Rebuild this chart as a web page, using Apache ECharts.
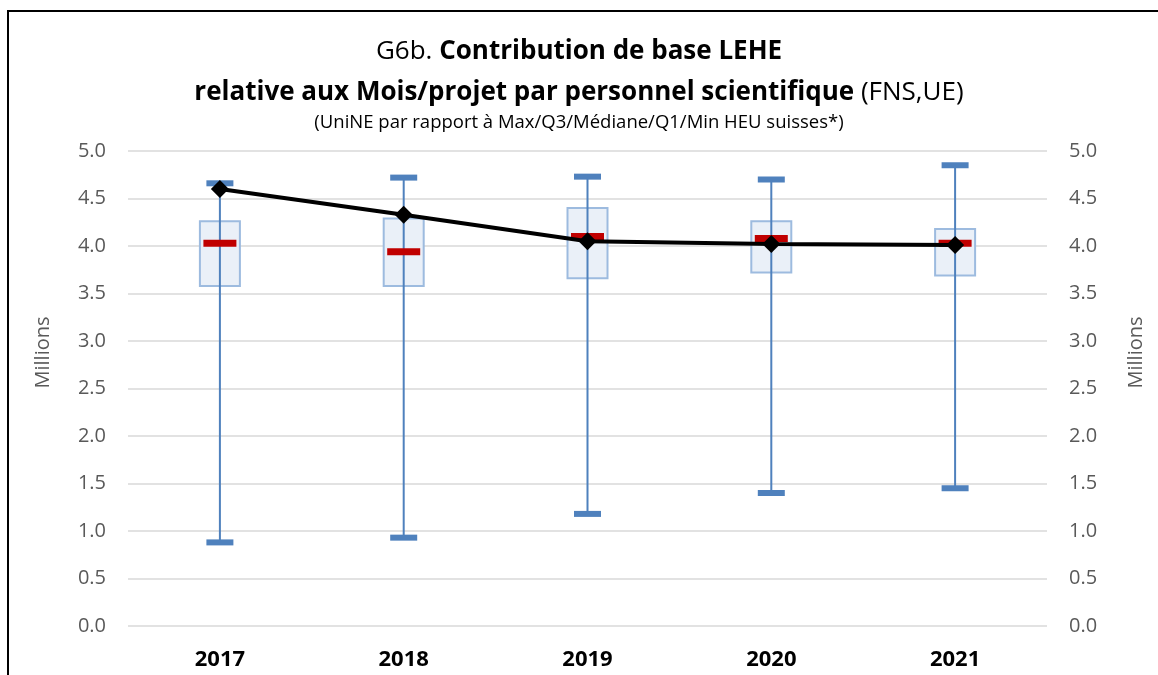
<!DOCTYPE html>
<html>
<head>
<meta charset="utf-8">
<script src="https://cdn.jsdelivr.net/npm/echarts@6/dist/echarts.min.js"></script>
<style>
    html, body { margin: 0; padding: 0; background: #fff; }
    #main { width: 1158px; height: 675px; }
</style>
</head>
<body>
<div id="main"></div>
<script>
// données (millions)
var years = ['2017', '2018', '2019', '2020', '2021'];
var minVals = [0.88, 0.93, 1.18, 1.40, 1.45];
var q1Vals = [3.58, 3.58, 3.66, 3.72, 3.69];
var medVals = [4.03, 3.94, 4.10, 4.08, 4.03];
var q3Vals = [4.26, 4.29, 4.40, 4.26, 4.18];
var maxVals = [4.66, 4.72, 4.73, 4.70, 4.85];
var unineVals = [4.60, 4.33, 4.05, 4.02, 4.01];
var yTicks = ['0.0', '0.5', '1.0', '1.5', '2.0', '2.5', '3.0', '3.5', '4.0', '4.5', '5.0'];

var font = 'Open Sans';

var boxData = years.map(function (y, i) {
    return [i, minVals[i], q1Vals[i], medVals[i], q3Vals[i], maxVals[i]];
});

// boîte + moustaches dessinées à la main (style Excel)
function renderBox(params, api) {
    var x = api.value(0);
    var pMin = api.coord([x, api.value(1)]);
    var pQ1 = api.coord([x, api.value(2)]);
    var pMed = api.coord([x, api.value(3)]);
    var pQ3 = api.coord([x, api.value(4)]);
    var pMax = api.coord([x, api.value(5)]);
    var cx = pMin[0];
    return {
        type: 'group',
        children: [{
            type: 'rect',
            shape: { x: cx - 20, y: pQ3[1], width: 40, height: pQ1[1] - pQ3[1] },
            style: { fill: '#eaf0f8', stroke: '#9dbbdf', lineWidth: 2 }
        }, {
            type: 'line',
            shape: { x1: cx, y1: pMax[1], x2: cx, y2: pMin[1] },
            style: { stroke: '#4f81bd', lineWidth: 2 }
        }, {
            type: 'rect',
            shape: { x: cx - 13.5, y: pMax[1] - 3, width: 27, height: 6 },
            style: { fill: '#4f81bd' }
        }, {
            type: 'rect',
            shape: { x: cx - 13.5, y: pMin[1] - 3, width: 27, height: 6 },
            style: { fill: '#4f81bd' }
        }, {
            type: 'rect',
            shape: { x: cx - 16.5, y: pMed[1] - 3.5, width: 33, height: 7 },
            style: { fill: '#c00000' }
        }]
    };
}

function yAxisCfg(pos) {
    return {
        type: 'value',
        position: pos,
        min: 0,
        max: 5,
        interval: 0.5,
        name: 'Millions',
        nameLocation: 'middle',
        nameRotate: 90,
        nameGap: pos === 'left' ? 75 : 79,
        nameTextStyle: { fontFamily: font, fontSize: 20, color: '#595959', padding: [0, 0, 0, 72] },
        axisLine: { show: false },
        axisTick: { show: false },
        axisLabel: {
            fontFamily: font, fontSize: 20, color: '#595959', margin: 22,
            formatter: function (v) { return yTicks[Math.round(v * 2)]; }
        },
        splitLine: { show: pos === 'left', lineStyle: { color: '#d9d9d9', width: 1.5 } }
    };
}

var myChart = echarts.init(document.getElementById('main'));
myChart.setOption({
    backgroundColor: '#fff',
    animation: false,
    title: {
        left: 'center',
        top: 26,
        itemGap: 0,
        text: '{n|G6b. }{b|Contribution de base LEHE}\n{b|relative aux Mois/projet par personnel scientifique}{n| (FNS,UE)}',
        textStyle: {
            lineHeight: 41,
            rich: {
                n: { fontFamily: font, fontSize: 26, fontWeight: 'normal', color: '#000', lineHeight: 41 },
                b: { fontFamily: font, fontSize: 26, fontWeight: 'bold', color: '#000', lineHeight: 41 }
            }
        },
        subtext: '(UniNE par rapport à Max/Q3/Médiane/Q1/Min HEU suisses*)',
        subtextStyle: { fontFamily: font, fontSize: 18.5, color: '#000', lineHeight: 20 }
    },
    graphic: [{
        type: 'rect',
        shape: { x: 8, y: 11, width: 1200, height: 700 },
        style: { fill: 'none', stroke: '#000', lineWidth: 2 },
        silent: true
    }],
    grid: { left: 128, right: 111, top: 151, bottom: 49 },
    xAxis: {
        type: 'category',
        data: years,
        axisLine: { show: false },
        axisTick: { show: false },
        axisLabel: { fontFamily: font, fontSize: 22, fontWeight: 'bold', color: '#000', margin: 23 }
    },
    yAxis: [yAxisCfg('left'), yAxisCfg('right')],
    series: [{
        name: 'HEU suisses',
        type: 'custom',
        renderItem: renderBox,
        encode: { x: 0, y: [1, 2, 3, 4, 5] },
        data: boxData,
        z: 2
    }, {
        name: 'UniNE',
        type: 'line',
        data: unineVals,
        symbol: 'diamond',
        symbolSize: 18,
        itemStyle: { color: '#000' },
        lineStyle: { color: '#000', width: 4 },
        z: 5
    }]
});
</script>
</body>
</html>
